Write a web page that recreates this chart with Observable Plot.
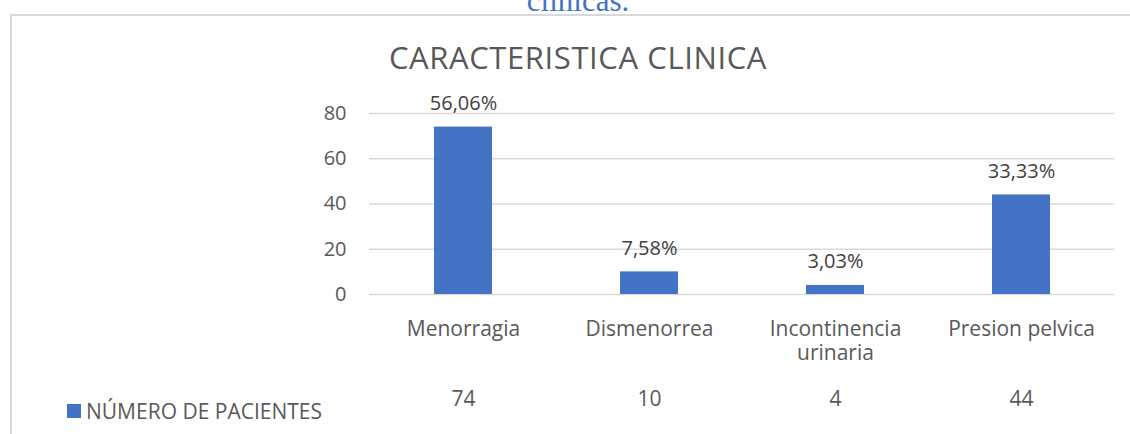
<!DOCTYPE html>
<html>
<head>
<meta charset="utf-8">
<script src="https://cdn.jsdelivr.net/npm/d3@7"></script>
<script src="https://cdn.jsdelivr.net/npm/@observablehq/plot@0.6"></script>
<style>
  html, body { margin: 0; padding: 0; background: #fff; }
  #wrap { position: relative; width: 1130px; height: 434px; overflow: hidden; font-family: "Open Sans", sans-serif; color: #595959; }
  #frame { position: absolute; left: 10px; top: 14px; width: 1200px; height: 500px; border-left: 2px solid #d9d9d9; border-top: 2px solid #d9d9d9; }
  #caption { position: absolute; left: 378px; width: 400px; top: -15px; text-align: center; font-family: "Liberation Serif", serif; font-size: 31px; line-height: 31px; color: #4472C4; }
  #title { position: absolute; left: 278px; width: 600px; top: 42px; text-align: center; font-size: 31px; line-height: 30px; letter-spacing: 0.6px; color: #595959; }
  #chart { position: absolute; left: 0; top: 0; }
  #legend { position: absolute; left: 67px; top: 399px; font-size: 21px; line-height: 24px; color: #595959; display: flex; align-items: center; }
  #legend .sw { width: 14px; height: 14px; background: #4472C4; margin-right: 5px; }
</style>
</head>
<body>
<div id="wrap">
  <div id="frame"></div>
  <div id="caption">clínicas.</div>
  <div id="title">CARACTERISTICA CLINICA</div>
  <div id="chart"></div>
  <div id="legend"><div class="sw"></div><span>NÚMERO DE PACIENTES</span></div>
</div>
<script>
const categories = ["Menorragia", "Dismenorrea", "Incontinencia urinaria", "Presion pelvica"];
const categoryLabels = ["Menorragia", "Dismenorrea", "Incontinencia\nurinaria", "Presion pelvica"];
const patients = [74, 10, 4, 44];
const percentLabels = ["56,06%", "7,58%", "3,03%", "33,33%"];
const yTicks = [0, 20, 40, 60, 80];

const data = categories.map((c, i) => ({cat: c, label: categoryLabels[i], value: patients[i], pct: percentLabels[i]}));
const labelOf = new Map(data.map(d => [d.cat, d.label]));

const chart = Plot.plot({
  width: 1130,
  height: 434,
  marginLeft: 369,
  marginRight: 16,
  marginTop: 113,
  marginBottom: 140,
  style: {fontFamily: "Open Sans, sans-serif", fontSize: "20px", color: "#595959", background: "transparent"},
  x: {domain: categories, paddingInner: 0.69, paddingOuter: 0.345, label: null},
  y: {domain: [0, 80], ticks: yTicks, label: null},
  marks: [
    Plot.gridY(yTicks, {stroke: "#d9d9d9", strokeOpacity: 1, strokeWidth: 1.5}),
    Plot.barY(data, {x: "cat", y: "value", fill: "#4472C4"}),
    Plot.axisY(yTicks, {tickSize: 0, tickPadding: 23, fill: "#595959", fontSize: 20, label: null}),
    Plot.axisX({tickSize: 0, tickPadding: 24, fill: "#595959", fontSize: 21, lineHeight: 1.15, tickFormat: d => labelOf.get(d), label: null}),
    Plot.text(data, {x: "cat", y: "value", text: "pct", lineAnchor: "bottom", dy: -17, fill: "#404040", fontSize: 20}),
    Plot.text(data, {x: "cat", y: 0, text: d => String(d.value), lineAnchor: "bottom", dy: 111, fill: "#595959", fontSize: 21})
  ]
});
document.getElementById("chart").appendChild(chart);
</script>
</body>
</html>
